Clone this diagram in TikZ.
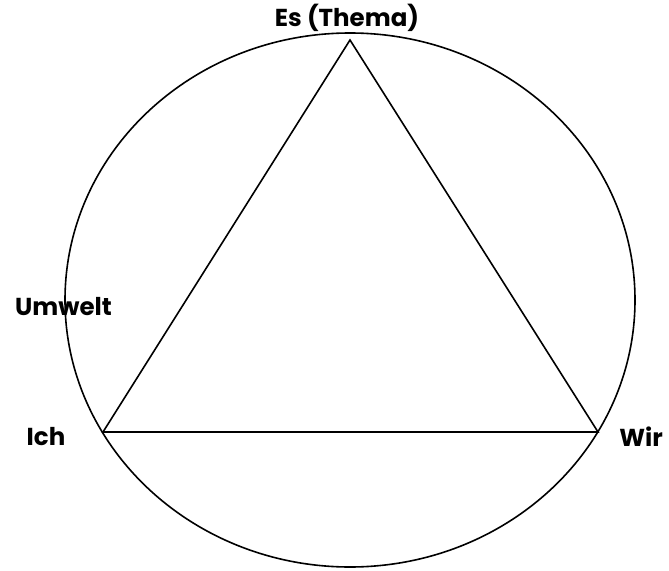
\documentclass[tikz,border=0pt]{standalone}
\usepackage{fontspec}
\setmainfont{Poppins}
\begin{document}
\begin{tikzpicture}[
                x=1pt, y=-1pt,
                label/.style={
                    font=\bfseries\fontsize{24.5}{26}\selectfont,
                    inner sep=0pt,
                    text=black
                },
                line/.style={
                    draw=black,
                    line width=1.6pt
                }
            ]
                \useasboundingbox (0,0) rectangle (669,570);

                \draw[line] (350,300) ellipse (285 and 267);

                \coordinate (es) at (350,40);
                \coordinate (ich) at (103,432);
                \coordinate (wir) at (598,432);

                \draw[line] (es) -- (wir) -- (ich) -- cycle;

                \node[label] (thema) at (347,18) {Es (Thema)};
                \node[label] (umwelt) at (63.5,307) {Umwelt};
                \node[label] (ichlabel) at (46,437) {Ich};
                \node[label] (wirlabel) at (641,437) {Wir};
        \end{tikzpicture}
\end{document}
